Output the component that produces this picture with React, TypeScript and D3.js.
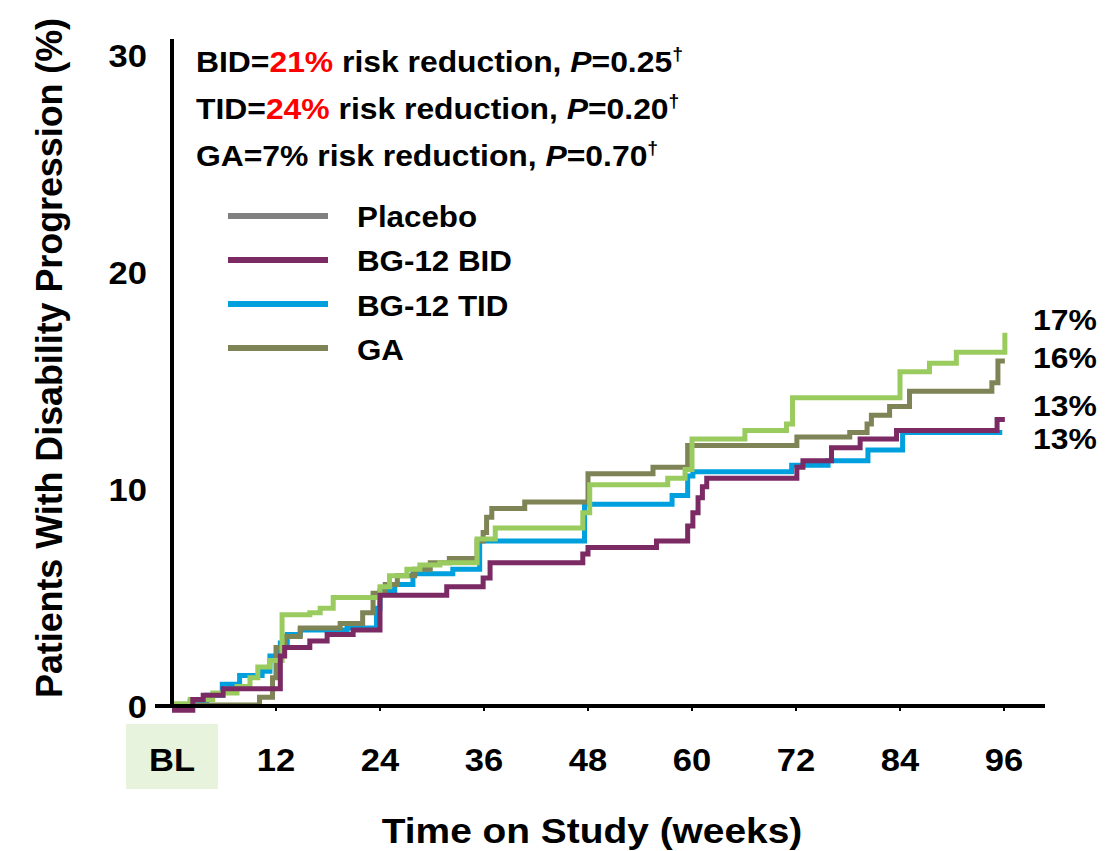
import * as d3 from "d3";

const width = 1111;
const height = 851;

const xTicks = [0, 12, 24, 36, 48, 60, 72, 84, 96];
const xTickLabels = ["BL", "12", "24", "36", "48", "60", "72", "84", "96"];
const yTicks = [0, 10, 20, 30];

// step curves: [week, % progressed]
const placeboWeeks = [0, 2.1, 4.7, 7.5, 9.0, 9.9, 11.3, 12.7, 15.9, 17.1, 18.6, 24, 25.1, 27.1, 28.6, 30.9, 35.2, 37.3, 47.4, 48.2, 57.2, 59.2, 60.0, 66.1, 70.9, 71.6, 84, 87.4, 90.5, 96.1, 96.1];
const placeboValues = [0.1, 0.3, 0.6, 0.9, 1.3, 1.8, 2.1, 4.2, 4.3, 4.5, 5.0, 5.5, 6.0, 6.3, 6.5, 6.6, 7.7, 8.2, 8.9, 10.2, 10.5, 10.9, 12.3, 12.7, 13.0, 14.2, 15.4, 15.8, 16.3, 17.2, 17.2];

const gaWeeks = [0, 10.1, 11.6, 12, 13, 14.8, 19.4, 22, 23.2, 24.6, 26, 28, 29.8, 32, 35.2, 35.9, 36.3, 36.9, 40.7, 48, 55.5, 59.5, 72.1, 78.2, 80.2, 80.7, 82.8, 85.1, 94.6, 95.3, 96.1];
const gaValues = [0.05, 0.4, 1.3, 2.7, 3.2, 3.6, 3.8, 4.3, 5.2, 5.6, 6.0, 6.3, 6.6, 6.8, 7.6, 8.0, 8.7, 9.1, 9.4, 10.7, 11.0, 12.0, 12.4, 12.6, 13.0, 13.4, 13.8, 14.5, 14.9, 15.9, 15.9];

const tidWeeks = [0, 2.1, 4, 5.8, 7.8, 10.4, 11.3, 12.5, 13.3, 14.8, 20.2, 23.6, 24, 25.7, 27.8, 32.4, 35.5, 47.6, 57.7, 59.5, 60.1, 71.5, 75.7, 80.3, 84.3, 95.8];
const tidValues = [0.0, 0.2, 0.5, 1.0, 1.4, 1.6, 2.3, 2.9, 3.3, 3.5, 3.6, 4.5, 5.3, 5.6, 6.1, 6.3, 7.6, 9.3, 9.7, 10.6, 10.8, 11.1, 11.3, 11.8, 12.6, 12.6];

const bidWeeks = [0, 2.4, 3.6, 5.9, 12.5, 13, 15.9, 17.9, 20.9, 24, 31.7, 35.9, 36.7, 47.4, 48, 55.9, 59.5, 60.1, 60.7, 61.2, 61.7, 72.1, 72.8, 76.1, 79.4, 83.6, 95.2, 96.1];
const bidValues = [-0.2, 0.3, 0.5, 0.8, 2.3, 2.7, 3.0, 3.3, 3.5, 5.1, 5.5, 5.9, 6.6, 7.0, 7.3, 7.6, 8.3, 8.9, 9.6, 10.1, 10.5, 11.0, 11.3, 11.9, 12.3, 12.7, 13.2, 13.2];

const legendNames = ["Placebo", "BG-12 BID", "BG-12 TID", "GA"];
const legendColors = ["#808080", "#7b2a64", "#00a0de", "#7f8456"];

const endLabels = ["17%", "16%", "13%", "13%"];
const endLabelBaselines = [330, 368, 416, 449];

const font = "'Liberation Sans', Arial, sans-serif";
const sx = 1.08; // text in the picture is a bit wider than Arial

const Txt = ({ x, y, size, anchor = "start", children }: any) => (
  <g transform={`translate(${x},${y}) scale(${sx},1)`}>
    <text fontSize={size} textAnchor={anchor}>
      {children}
    </text>
  </g>
);

const App = () => {
  const x = d3.scaleLinear().domain([0, 96]).range([172, 1004]);
  const y = d3.scaleLinear().domain([0, 30]).range([706, 55]);

  const line = d3
    .line<[number, number]>()
    .x(d => x(d[0]))
    .y(d => y(d[1]))
    .curve(d3.curveStepAfter);

  const series = [
    { weeks: tidWeeks, values: tidValues, color: "#00a0de" },
    { weeks: gaWeeks, values: gaValues, color: "#7f8456" },
    { weeks: placeboWeeks, values: placeboValues, color: "#9acb5f" },
    { weeks: bidWeeks, values: bidValues, color: "#7b2a64" },
  ];

  const notes = [
    { pre: "BID=", red: "21%", p: "0.25" },
    { pre: "TID=", red: "24%", p: "0.20" },
    { pre: "GA=7%", red: "", p: "0.70" },
  ];

  return (
    <svg
      width={width}
      height={height}
      style={{ position: "absolute", left: 0, top: 0, background: "#fff" }}
      fontFamily={font}
      fontWeight="bold"
    >
      {/* BL highlight */}
      <rect x={126} y={724} width={92} height={65} fill="#e7f3dd" />

      {series.map((s, i) => (
        <path
          key={i}
          d={line(s.weeks.map((w, j) => [w, s.values[j]]) as [number, number][]) || ""}
          fill="none"
          stroke={s.color}
          strokeWidth={5}
        />
      ))}

      {/* axes */}
      <line x1={172} x2={172} y1={39} y2={708} stroke="#000" strokeWidth={4} />
      <line x1={155} x2={1045} y1={706} y2={706} stroke="#000" strokeWidth={4} />
      {xTicks.slice(1).map(t => (
        <line key={t} x1={x(t)} x2={x(t)} y1={706} y2={711} stroke="#000" strokeWidth={2} />
      ))}

      {yTicks.map(t => (
        <Txt key={t} x={147} y={y(t) + 12} size={32} anchor="end">
          {t}
        </Txt>
      ))}
      {xTicks.map((t, i) => (
        <Txt key={t} x={x(t)} y={771} size={32} anchor="middle">
          {xTickLabels[i]}
        </Txt>
      ))}

      <Txt x={592} y={843} size={36} anchor="middle">
        Time on Study (weeks)
      </Txt>
      <text
        transform="translate(62,358) rotate(-90)"
        textAnchor="middle"
        fontSize={36}
        textLength={680}
        lengthAdjust="spacingAndGlyphs"
      >
        Patients With Disability Progression (%)
      </text>

      {notes.map((n, i) => (
        <Txt key={i} x={196} y={72 + i * 47} size={29.5}>
          {n.pre}
          {n.red && <tspan fill="#ff0000">{n.red}</tspan>}
          <tspan> risk reduction, </tspan>
          <tspan fontStyle="italic">P</tspan>
          <tspan>={n.p}</tspan>
          <tspan fontSize={18} dy={-12}>†</tspan>
        </Txt>
      ))}

      {legendNames.map((name, i) => (
        <g key={name}>
          <line
            x1={228}
            x2={328}
            y1={216 + i * 44}
            y2={216 + i * 44}
            stroke={legendColors[i]}
            strokeWidth={6}
          />
          <Txt x={357} y={227 + i * 44.3} size={29}>
            {name}
          </Txt>
        </g>
      ))}

      {endLabels.map((l, i) => (
        <Txt key={i} x={1033} y={endLabelBaselines[i]} size={29.5}>
          {l}
        </Txt>
      ))}
    </svg>
  );
};

export default App;
